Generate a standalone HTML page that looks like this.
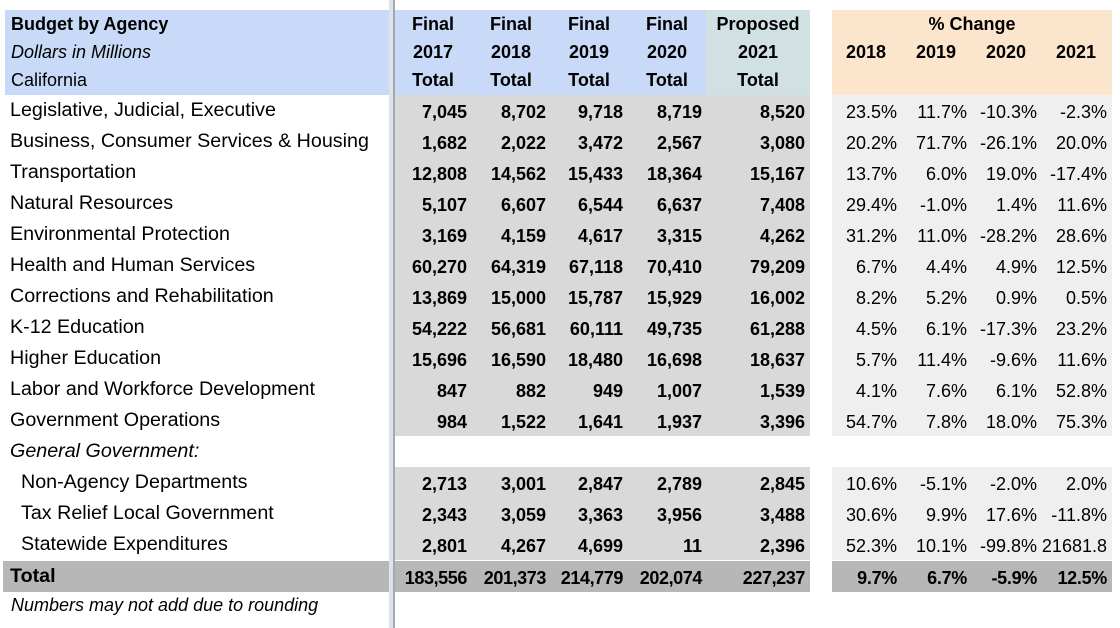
<!DOCTYPE html>
<html><head><meta charset="utf-8"><style>
html,body{margin:0;padding:0;background:#fff;width:1120px;height:628px;overflow:hidden;font-family:"Liberation Sans",Arial,sans-serif;color:#000}
.a{position:absolute;box-sizing:border-box;white-space:nowrap}
.bg{position:absolute}
.c{position:absolute;white-space:nowrap;line-height:31px;height:31px}
</style></head><body>
<div id="root" style="position:relative;width:1120px;height:628px">
<div class="bg" style="left:5px;top:10px;width:384px;height:85px;background:#c9daf8"></div>
<div class="bg" style="left:395px;top:10px;width:311px;height:85px;background:#c9daf8"></div>
<div class="bg" style="left:706px;top:10px;width:104px;height:85px;background:#d0e0e3"></div>
<div class="bg" style="left:832px;top:10px;width:280px;height:85px;background:#fce5cd"></div>
<div class="bg" style="left:389px;top:0;width:5px;height:628px;background:#dde3ec"></div>
<div class="bg" style="left:393px;top:0;width:2px;height:628px;background:#a8a8a8"></div>

<div class="a" style="left:11px;top:14px;font-size:18px;font-weight:bold">Budget by Agency</div>
<div class="a" style="left:11px;top:42px;font-size:18px;font-style:italic">Dollars in Millions</div>
<div class="a" style="left:11px;top:70px;font-size:18px">California</div>
<div class="a" style="left:832px;width:280px;text-align:center;top:14px;font-size:18px;font-weight:bold">% Change</div>

<div class="a" style="left:11px;top:595px;font-size:18px;font-style:italic">Numbers may not add due to rounding</div>
</div>
<script>
const labels=["Legislative, Judicial, Executive","Business, Consumer Services & Housing","Transportation","Natural Resources","Environmental Protection","Health and Human Services","Corrections and Rehabilitation","K-12 Education","Higher Education","Labor and Workforce Development","Government Operations","General Government:","Non-Agency Departments","Tax Relief Local Government","Statewide Expenditures","Total"];
const y2017=["7,045","1,682","12,808","5,107","3,169","60,270","13,869","54,222","15,696","847","984","","2,713","2,343","2,801","183,556"];
const y2018=["8,702","2,022","14,562","6,607","4,159","64,319","15,000","56,681","16,590","882","1,522","","3,001","3,059","4,267","201,373"];
const y2019=["9,718","3,472","15,433","6,544","4,617","67,118","15,787","60,111","18,480","949","1,641","","2,847","3,363","4,699","214,779"];
const y2020=["8,719","2,567","18,364","6,637","3,315","70,410","15,929","49,735","16,698","1,007","1,937","","2,789","3,956","11","202,074"];
const y2021=["8,520","3,080","15,167","7,408","4,262","79,209","16,002","61,288","18,637","1,539","3,396","","2,845","3,488","2,396","227,237"];
const p2018=["23.5%","20.2%","13.7%","29.4%","31.2%","6.7%","8.2%","4.5%","5.7%","4.1%","54.7%","","10.6%","30.6%","52.3%","9.7%"];
const p2019=["11.7%","71.7%","6.0%","-1.0%","11.0%","4.4%","5.2%","6.1%","11.4%","7.6%","7.8%","","-5.1%","9.9%","10.1%","6.7%"];
const p2020=["-10.3%","-26.1%","19.0%","1.4%","-28.2%","4.9%","0.9%","-17.3%","-9.6%","6.1%","18.0%","","-2.0%","17.6%","-99.8%","-5.9%"];
const p2021=["-2.3%","20.0%","-17.4%","11.6%","28.6%","12.5%","0.5%","23.2%","11.6%","52.8%","75.3%","","2.0%","-11.8%","21681.8","12.5%"];
const headers=[["Final","2017","Total"],["Final","2018","Total"],["Final","2019","Total"],["Final","2020","Total"],["Proposed","2021","Total"]];
const pctHeaders=["2018","2019","2020","2021"];

const root=document.getElementById('root');
const numRight=[467,546,623,702,805];
const numCenter=[433,511,589,667,758];
const pctRight=[897,967,1037,1107];
const pctCenter=[866,936,1006,1076];
const numCols=[y2017,y2018,y2019,y2020,y2021];
const pctCols=[p2018,p2019,p2020,p2021];
function mk(cls,style,text){const d=document.createElement('div');d.className=cls;d.style.cssText=style;if(text!==undefined)d.textContent=text;root.appendChild(d);return d;}
headers.forEach((h,i)=>{h.forEach((t,j)=>{
 const d=mk('a',`left:${numCenter[i]-55}px;width:110px;text-align:center;top:${14+j*28}px;font-size:18px;font-weight:bold`,t);
 
 
});});
pctHeaders.forEach((t,i)=>{
 const d=mk('a',`left:${pctCenter[i]-40}px;width:80px;text-align:center;top:42px;font-size:18px;font-weight:bold`,t);
 
 
});
labels.forEach((lab,r)=>{
 const top=95+r*31+(r===15?1:0);
 const isTotal=r===15, isSection=r===11, indent=r>=12&&r<=14;
 if(!isSection){
  const b1=mk('bg',`left:395px;top:${top}px;width:415px;height:31px;background:${isTotal?'#b7b7b7':'#d9d9d9'}`);
  
  
  const b2=mk('bg',`left:832px;top:${top}px;width:280px;height:31px;background:${isTotal?'#b7b7b7':'#efefef'}`);
  
  
 }
 if(isTotal){
  const b3=mk('bg',`left:3px;top:${top}px;width:386px;height:31px;background:#b7b7b7`);
  
  
 }
 const l=mk('c',`left:${indent?21:10}px;top:${top}px;font-size:19.7px;${isSection?'font-style:italic;':''}${isTotal?'font-weight:bold;':''}`,lab);
 
 
 numCols.forEach((col,i)=>{
  if(!col[r])return;
  const d=mk('c',`left:${numRight[i]-100}px;width:100px;text-align:right;top:${top+2}px;font-size:18px;font-weight:bold;${isTotal?'letter-spacing:-0.4px;':''}`,col[r]);
  
  
 });
 pctCols.forEach((col,i)=>{
  if(!col[r])return;
  const d=mk('c',`left:${pctRight[i]-90}px;width:90px;text-align:right;top:${top+2}px;font-size:18px;${isTotal?'font-weight:bold;letter-spacing:-0.3px;':''}`,col[r]);
  
  
 });
});
</script>
</body></html>
